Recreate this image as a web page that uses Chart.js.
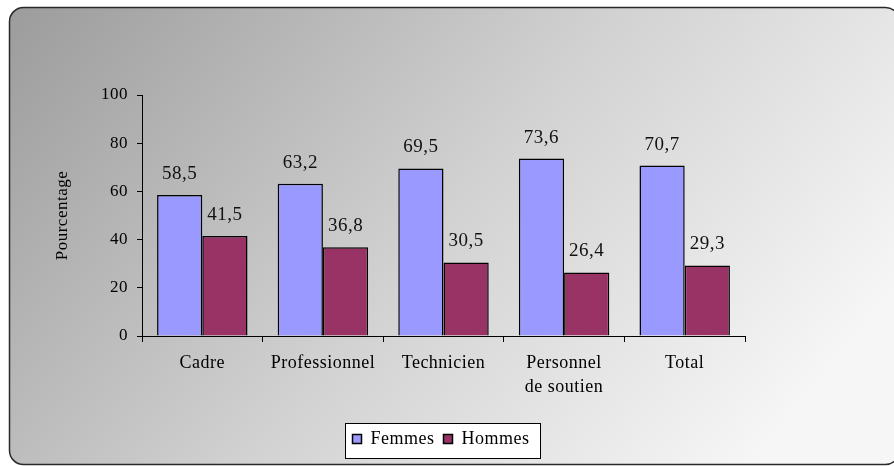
<!DOCTYPE html>
<html>
<head>
<meta charset="utf-8">
<script src="https://cdn.jsdelivr.net/npm/chart.js@4"></script>
<style>
  html, body { margin: 0; padding: 0; background: #fff; }
  #wrap { width: 894px; height: 466px; }
</style>
</head>
<body>
<div id="wrap"><canvas id="chart" width="894" height="466"></canvas></div>
<script>
// categories and values
const categories = ['Cadre', 'Professionnel', 'Technicien', ['Personnel', 'de soutien'], 'Total'];
const femmes = [58.5, 63.2, 69.5, 73.6, 70.7];
const hommes = [41.5, 36.8, 30.5, 26.4, 29.3];
const yTicks = [0, 20, 40, 60, 80, 100];

const SERIF = '"Liberation Serif", "Times New Roman", serif';

// the original text is set a little loose, like Excel prints it
const spacing = {
    id: 'spacing',
    beforeLayout: chart => { chart.ctx.letterSpacing = '0.5px'; },
    beforeDraw: chart => { chart.ctx.letterSpacing = '0.5px'; }
};

// background panel + legend frame, drawn before scales/legend
const framePlugin = {
    id: 'frame',
    beforeDraw: function (chart) {
        const ctx = chart.ctx;
        ctx.save();
        ctx.fillStyle = '#fff';
        ctx.fillRect(0, 0, chart.width, chart.height);

        const x = 9.5, y = 7.5, w = 890, h = 457, r = 14;
        const g = ctx.createLinearGradient(x, y, x + w * 0.75, y + h * 1.2);
        g.addColorStop(0, '#9c9c9c');
        g.addColorStop(0.55, '#d2d2d2');
        g.addColorStop(1, '#f6f6f6');
        ctx.beginPath();
        ctx.roundRect(x, y, w, h, r);
        ctx.fillStyle = g;
        ctx.fill();
        ctx.lineWidth = 1.5;
        ctx.strokeStyle = '#2a2a2a';
        ctx.stroke();

        // box around the legend
        const lg = chart.legend;
        if (lg && lg.legendHitBoxes && lg.legendHitBoxes.length) {
            const hb = lg.legendHitBoxes;
            const left = Math.min(...hb.map(b => b.left)) - 8;
            const right = Math.max(...hb.map(b => b.left + b.width)) + 10;
            const top = lg.top + 2;
            const bottom = lg.bottom;
            ctx.fillStyle = '#fff';
            ctx.fillRect(Math.round(left) + 0.5, Math.round(top) + 0.5, Math.round(right - left), Math.round(bottom - top));
            ctx.lineWidth = 1;
            ctx.strokeStyle = '#000';
            ctx.strokeRect(Math.round(left) + 0.5, Math.round(top) + 0.5, Math.round(right - left), Math.round(bottom - top));
        }
        ctx.restore();
    }
};

// value labels above each bar
const valueLabels = {
    id: 'valueLabels',
    afterDatasetsDraw: function (chart) {
        const ctx = chart.ctx;
        ctx.save();
        ctx.font = '19px ' + SERIF;
        ctx.fillStyle = '#111';
        ctx.textAlign = 'center';
        ctx.textBaseline = 'middle';
        chart.data.datasets.forEach((ds, i) => {
            chart.getDatasetMeta(i).data.forEach((bar, j) => {
                const txt = ds.data[j].toFixed(1).replace('.', ',');
                ctx.fillText(txt, bar.x, bar.y - 21);
            });
        });
        ctx.restore();
    }
};

new Chart(document.getElementById('chart').getContext('2d'), {
    type: 'bar',
    data: {
        labels: categories,
        datasets: [
            { label: 'Femmes', data: femmes, backgroundColor: '#9999ff', borderColor: '#000', borderWidth: 1.5, borderSkipped: 'bottom' },
            { label: 'Hommes', data: hommes, backgroundColor: '#993366', borderColor: '#000', borderWidth: 1.5, borderSkipped: 'bottom' }
        ]
    },
    plugins: [spacing, framePlugin, valueLabels],
    options: {
        responsive: false,
        animation: false,
        layout: { padding: { left: 52, right: 64, top: 95, bottom: 8 } },
        datasets: { bar: { categoryPercentage: 0.75, barPercentage: 1 } },
        plugins: {
            tooltip: { enabled: false },
            legend: {
                position: 'bottom',
                labels: {
                    boxWidth: 9,
                    boxHeight: 9,
                    padding: 9,
                    color: '#000',
                    font: { family: SERIF, size: 18 }
                }
            }
        },
        scales: {
            x: {
                grid: { display: true, drawOnChartArea: false, offset: true, tickLength: 6, color: '#000', lineWidth: 1 },
                border: { display: true, color: '#000', width: 1 },
                ticks: { color: '#000', padding: 10, maxRotation: 0, font: { family: SERIF, size: 18, lineHeight: 1.3 } },
                afterFit: s => { s.height = 85; }
            },
            y: {
                min: 0,
                max: 100,
                afterBuildTicks: s => { s.ticks = yTicks.map(v => ({ value: v })); },
                grid: { display: true, drawOnChartArea: false, tickLength: 5, color: '#000', lineWidth: 1 },
                border: { display: true, color: '#000', width: 1 },
                ticks: { color: '#000', padding: 9, font: { family: SERIF, size: 17 } },
                title: { display: true, text: 'Pourcentage', color: '#000', padding: 0, font: { family: SERIF, size: 17 } },
                afterFit: s => { s.width = 90; }
            },
            y2: {
                position: 'right',
                display: true,
                grid: { display: false },
                border: { display: false },
                ticks: { display: false },
                afterFit: s => { s.width = 85; }
            }
        }
    }
});
</script>
</body>
</html>
